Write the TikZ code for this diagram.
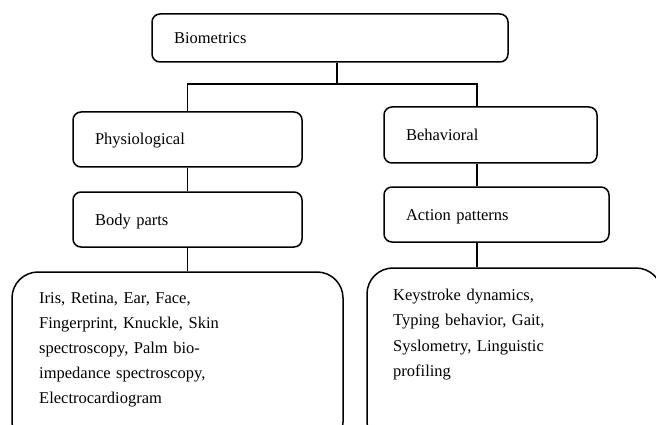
\documentclass[tikz,border=0pt]{standalone}
\usepackage{fontspec}
\setmainfont{Liberation Serif}
\usetikzlibrary{shapes,arrows,positioning,fit,calc}

\begin{document}
\begin{tikzpicture}[x=1pt,y=-1pt,
    font=\fontsize{16.5}{25.2}\selectfont,
    catbox/.style={draw, line width=1.5pt, rounded corners=8pt, inner xsep=22pt, inner ysep=0pt,
        align=left, text height=14pt, text depth=3pt},
    listbox/.style={draw, line width=1.5pt, rounded corners=26pt},
    listtext/.style={inner sep=0pt, align=left, anchor=north west},
    link/.style={line width=1.5pt}]
    \path[use as bounding box, clip] (0,0) rectangle (656,425);
    % categories
    \node[catbox, minimum height=48pt, text width=312pt] (bio) at (330,38) {Biometrics};
    \node[catbox, minimum height=55pt, text width=185pt] (phys) at (187.5,139.5) {Physiological};
    \node[catbox, minimum height=56pt, text width=169pt] (behav) at (490.5,135) {Behavioral};
    \node[catbox, minimum height=55pt, text width=185pt] (body) at (187.5,219.5) {Body parts};
    \node[catbox, minimum height=55pt, text width=181pt] (action) at (496.5,214.5) {Action patterns};
    % examples
    \node[listbox, minimum width=331pt, minimum height=176pt] (physlist) at (177.5,360) {};
    \node[listbox, minimum width=295pt, minimum height=180pt] (behavlist) at (514.5,358) {};
    \node[listtext, text width=300pt] (physitems) at (39,292) {Iris, Retina, Ear, Face,\\
        Fingerprint, Knuckle, Skin\\ spectroscopy, Palm bio-\\
        impedance spectroscopy,\\ Electrocardiogram};
    \node[listtext, text width=250pt] (behavitems) at (393,289) {Keystroke dynamics,\\
        Typing behavior, Gait,\\ Syslometry, Linguistic\\ profiling};
    % connectors
    \coordinate (split) at (337,84);
    \coordinate (rstem) at (477,84);
    \draw[link] (split |- bio.south) -- (split);
    \draw[link] (phys.north) |- (split) -- (rstem) -- (rstem |- behav.north);
    \draw[link] (phys) -- (body);
    \draw[link] (body.south) -- (body.south |- physlist.north);
    \draw[link] (rstem |- behav.south) -- (rstem |- action.north);
    \draw[link] (rstem |- action.south) -- (rstem |- behavlist.north);
\end{tikzpicture}
\end{document}
